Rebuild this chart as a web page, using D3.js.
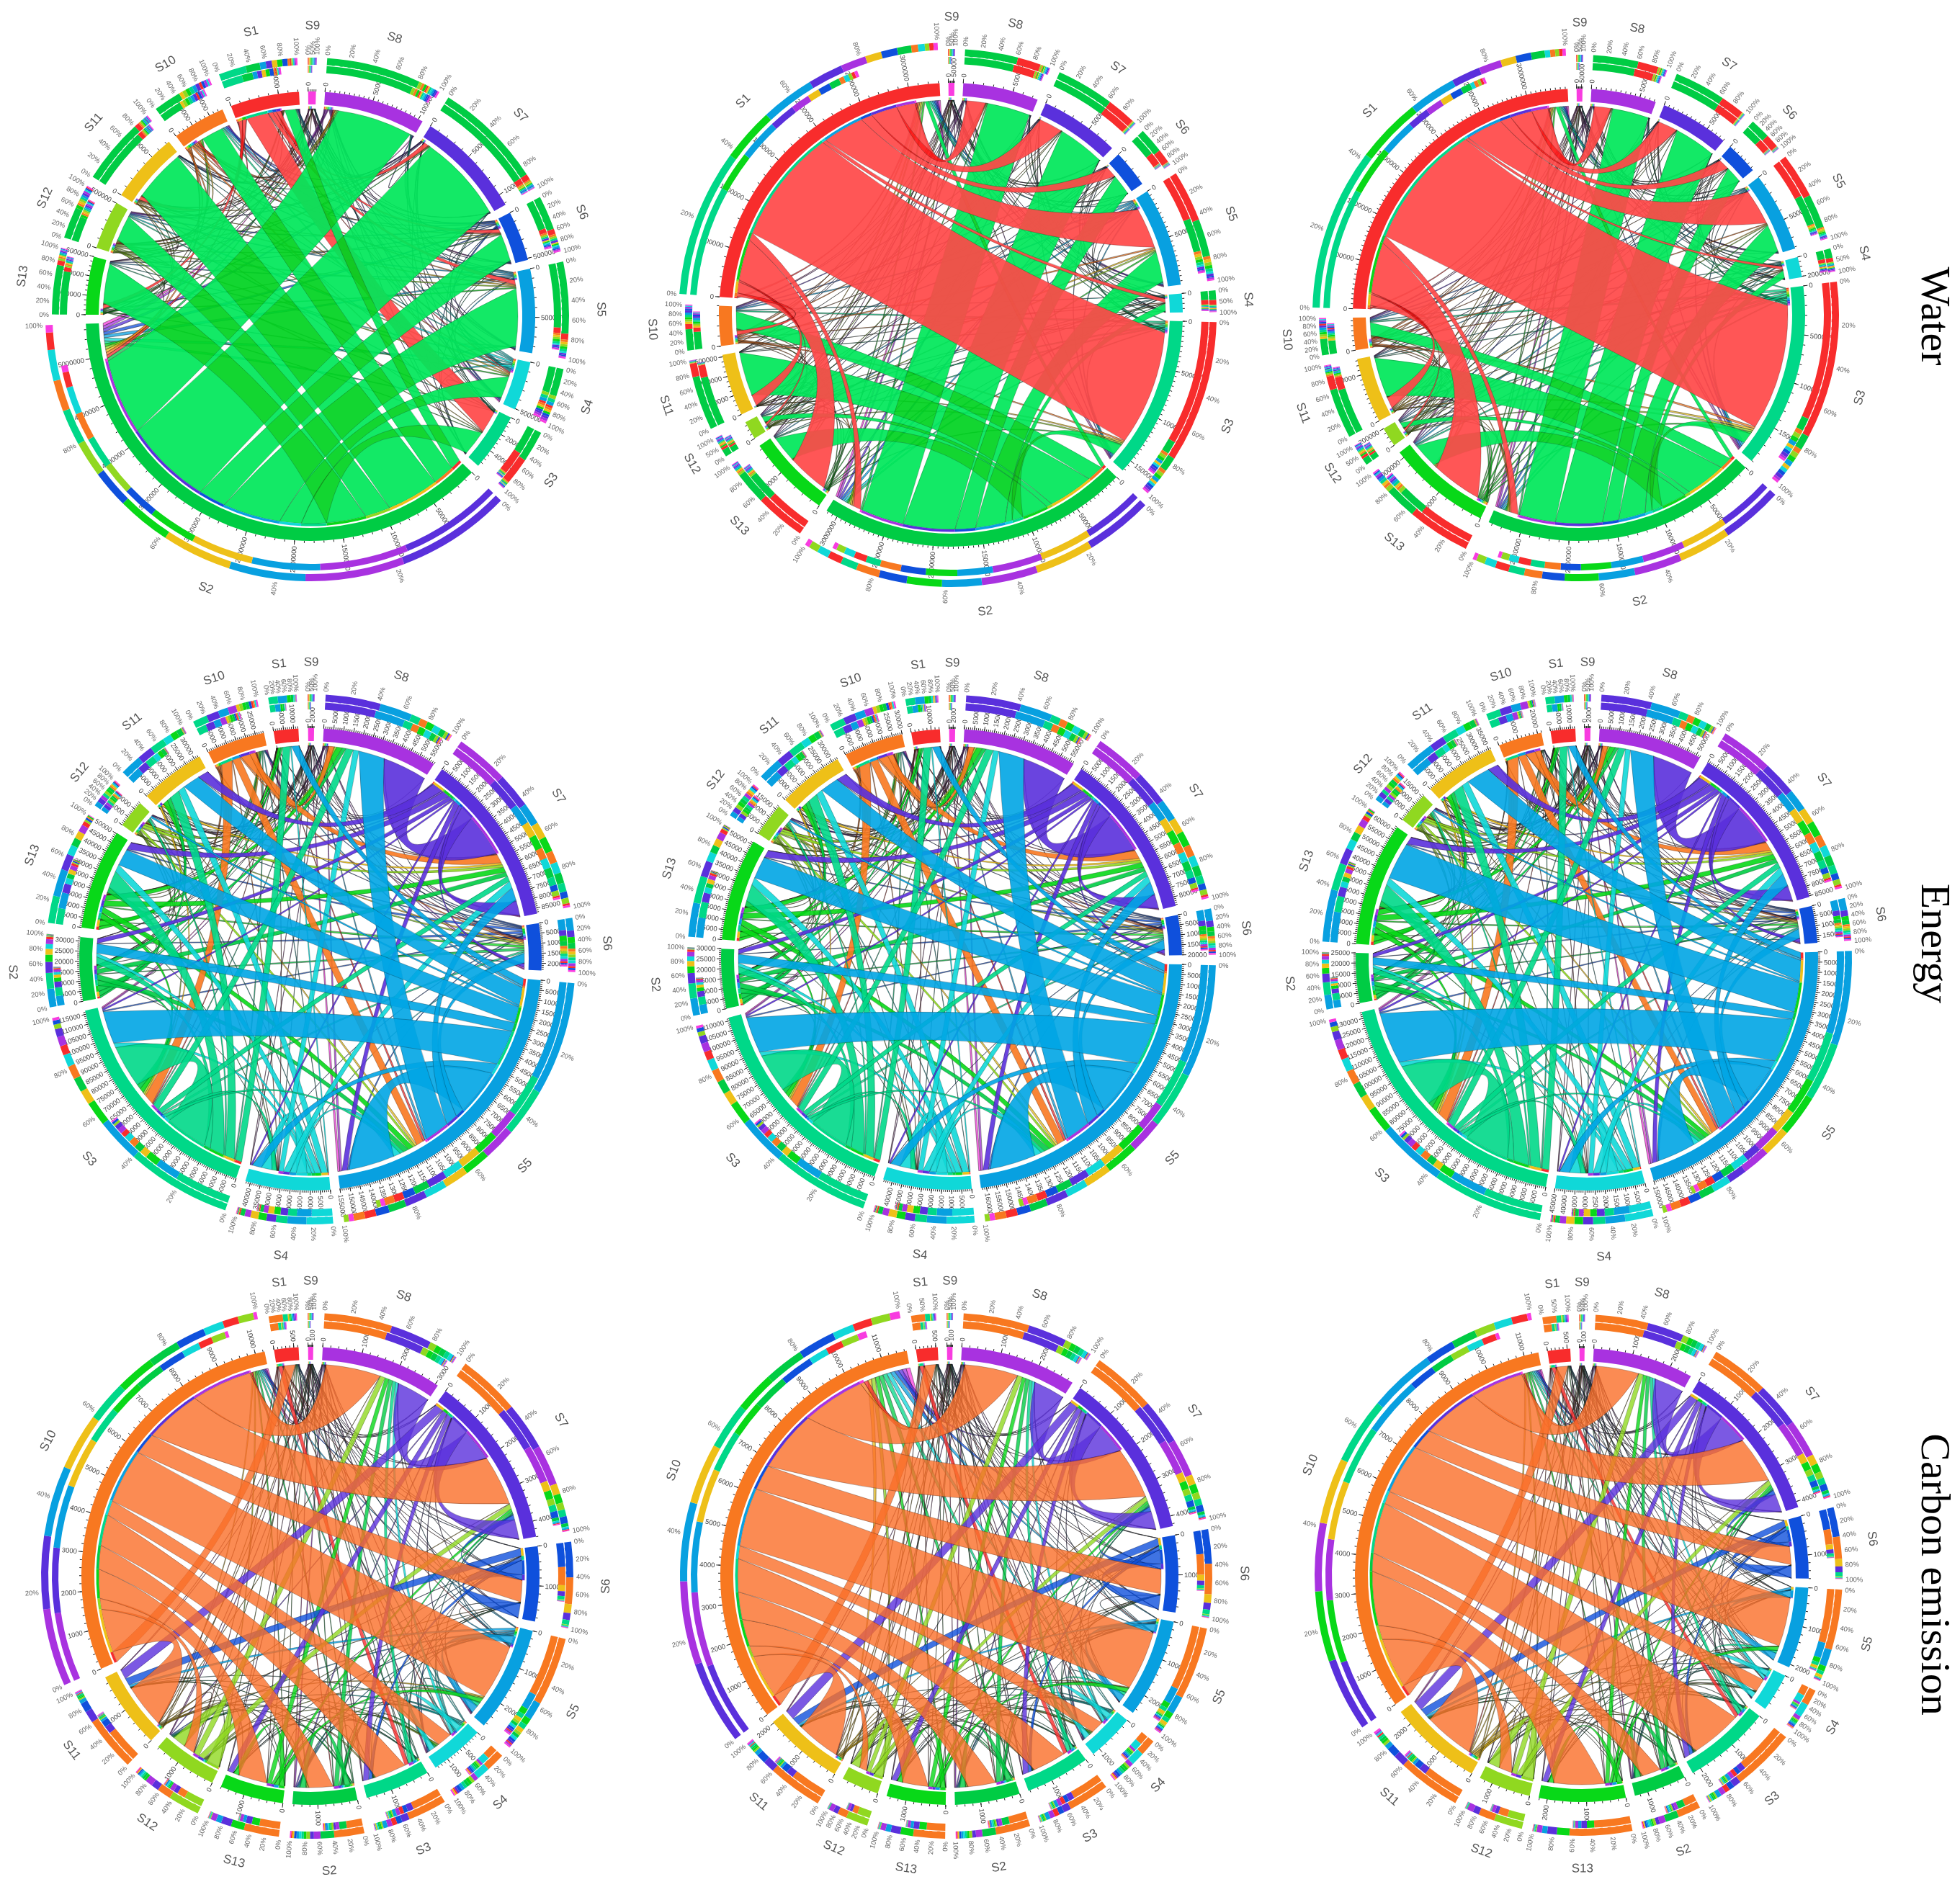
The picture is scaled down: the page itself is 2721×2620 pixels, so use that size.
<!DOCTYPE html>
<html><head><meta charset="utf-8">
<style>html,body{margin:0;padding:0;background:#fff}svg{display:block}</style>
<script src="https://cdn.jsdelivr.net/npm/d3@7"></script></head><body>
<svg id="c" width="2721" height="2620"></svg>
<script>
// ---------- categories (clockwise from the top of each diagram)
const sectorNames=["S9","S8","S7","S6","S5","S4","S3","S2","S13","S12","S11","S10","S1"];
const ringColors=["#f83ce0","#a832e0","#5a30dc","#0f50dc","#08a0e0","#10d8d8","#00d888","#00cc44","#08d818","#90d820","#eec018","#f87820","#f82c2c"];
const rowTitles=["Water","Energy","Carbon emission"];

// ---------- sector sizes, one list per diagram
const waterLeftSizes=[2,26.2,28,12.9,21.7,12.7,14.9,134,15,12.6,18.3,13.7,17.8];
const waterMidSizes=[1.5,18.9,19.9,9.4,24.7,4.7,40.6,78,21,4.6,15.5,10,82.8];
const waterRightSizes=[1.5,16.7,17.6,8.3,20.4,5.2,47.6,71,26.7,5,16.7,8.3,85.6];
const energyLeftSizes=[1.5,29,43.9,11.8,77.5,21.3,58.4,16,25.2,7,16.4,14.7,6.2];
const energyMidSizes=[1.5,28.8,42.3,10.1,81.4,22.3,55.8,15,25.8,8.5,16.5,15,7.2];
const energyRightSizes=[1.5,26.1,42.8,9.3,75,22.5,66.6,12.5,31,8,18,11,6.2];
const carbonLeftSizes=[1.3,30.7,44,19,26.9,13.7,16.5,16.4,16.1,16.3,19.6,102.4,6.2];
const carbonMidSizes=[1.4,29.4,42.6,19.5,25.2,12,16.4,16.5,15,9.5,20.3,116.6,5.5];
const carbonRightSizes=[1.3,25.7,41.5,16,20.8,9.8,22.3,13.4,22.2,13.4,23.9,113.7,5.8];

// ---------- main flows [from,to,value]
const waterLeftFlows=[[7,12,3],[7,11,6],[7,10,14.5],[7,9,7],[7,8,11],[7,6,7],[7,5,6],[7,4,16],[7,3,7.5],[7,2,24.4],[7,1,21],[12,6,6],[12,4,1.2],[12,3,1],[12,2,1.2],[12,8,1],[12,10,1]];
const waterMidFlows=[[12,11,1],[12,10,3],[12,9,.5],[12,8,11],[12,7,2],[12,6,31],[12,5,1],[12,4,11],[12,3,3],[12,2,7],[12,1,5],[7,12,1],[7,11,4.5],[7,10,12],[7,9,1.5],[7,8,7],[7,6,3],[7,5,2],[7,4,8],[7,3,5.5],[7,2,14],[7,1,11.5]];
const waterRightFlows=[[12,10,3],[12,9,.5],[12,8,14],[12,7,2],[12,6,35],[12,5,.8],[12,4,10],[12,3,3],[12,2,6],[12,1,4.5],[7,12,1],[7,11,3.5],[7,10,11],[7,9,1.5],[7,8,7],[7,6,3],[7,5,2],[7,4,7.5],[7,3,4.5],[7,2,13],[7,1,10]];
const energySharedFlows=[
 [2,1,12],[2,2,4],[2,10,3],[2,8,2],[2,7,1.2],[2,5,.5],[2,6,.5],[2,3,1],[2,4,1.5],
 [4,12,2],[4,9,.5],[4,7,2.5],[4,5,3],[4,4,13],[4,3,2.5],[4,2,3.5],[4,1,7],
 [5,12,.3],[5,10,2],[5,8,2],[5,7,1],[5,6,1.5],[5,5,3.5],[5,4,2],[5,2,2],[5,1,1.5],
 [6,12,2],[6,10,3],[6,9,.5],[6,8,4.5],[6,7,2],[6,6,13],[6,5,1.5],[6,4,1],[6,2,1.5],[6,1,2],
 [7,12,.5],[7,10,1.2],[7,8,1.5],[7,6,1.5],[7,4,1.5],[7,2,1.2],[7,1,1],
 [8,12,.8],[8,10,1.5],[8,6,1.5],[8,4,1.5],[8,2,1.5],[8,1,1.5],
 [9,2,.8],[9,1,.6],[9,4,.6],[10,2,.6],[10,6,.5],
 [11,6,3],[11,4,2],[11,2,2.5],[11,1,1.5]];
const energyLeftSkyBands=[[4,6,10],[4,8,4.5],[4,10,5]];
const energyMidSkyBands=[[4,6,12],[4,8,6],[4,10,5.5]];
const energyRightSkyBands=[[4,6,15],[4,8,10],[4,10,7]];
const carbonSharedFlows=[[2,1,10],[2,2,6],[2,10,2.5],[2,8,1.5],[2,6,1.5],[3,3,4],[3,10,2],[3,2,1.5],[3,6,1],[9,9,3.5],[9,1,1.5],[9,2,1.5],[8,1,1.2],[8,4,1.2],[8,2,.8],[7,1,1.2],[7,2,.6],[6,1,1],[6,4,.8],[5,1,.8],[5,5,1.5],[4,4,2],[4,10,.6],[12,6,1],[7,7,1.5],[8,8,1.5]];
const carbonLeftOrange=[[11,12,3],[11,10,12],[11,9,3],[11,8,8],[11,7,6.5],[11,6,8.5],[11,5,4],[11,4,15],[11,3,6],[11,2,15.5],[11,1,16.5]];
const carbonMidOrange=[[11,12,3],[11,10,12],[11,9,3],[11,8,7.5],[11,7,7.5],[11,6,9],[11,5,3.5],[11,4,16],[11,3,7],[11,2,17],[11,1,17]];
const carbonRightOrange=[[11,12,3],[11,10,14],[11,9,4],[11,8,15],[11,7,5],[11,6,14],[11,5,3.5],[11,4,14],[11,3,6],[11,2,15.5],[11,1,14.5]];

// ---------- hairline flows, relative sizes, one list per source sector
const waterHair=[
 [0,1,1,1,1,1,1,1,1,1,1,1,1],[1,0,1,1,1,1,1,1,1,2,1,1,1],[1,1,0,1,2,1,1,1,1,2,1,2,1],[1,1,2,1,1,1,2,1,1,2,1,2,1],
 [1,1,1,1,0,1,2,1,2,2,2,2,1],[1,1,1,1,2,0,2,1,1,2,1,1,1],[1,1,2,1,2,1,0,1,2,2,1,2,1],[1,1,1,1,1,1,1,0,1,1,1,1,1],
 [1,2,2,1,2,1,2,1,0,3,2,2,1],[1,2,2,1,2,1,2,1,3,2,2,2,1],[1,1,2,1,2,1,2,1,2,2,0,2,1],[1,2,2,1,2,1,2,1,2,2,2,0,1],[1,1,1,1,1,1,1,1,1,1,1,2,1]];
const energyHair=[
 [0,1,1,1,1,1,1,1,1,1,1,1,1],[1,0,1,2,1,1,1,2,1,1,1,2,1],[1,1,0,3,1,1,1,2,2,2,1,1,1],[1,1,2,1,1,1,1,3,3,1,1,1,1],
 [1,1,1,2,0,1,1,2,2,2,1,1,1],[1,1,1,2,1,0,1,2,2,2,1,1,1],[1,1,1,2,1,1,0,2,2,2,1,1,1],[1,2,2,3,2,2,2,2,3,3,2,2,1],
 [1,2,2,3,2,2,2,3,2,3,2,2,1],[1,2,2,2,2,2,2,3,3,3,2,2,1],[1,1,1,2,1,1,1,2,2,2,0,2,1],[1,1,1,2,1,1,1,2,2,2,2,1,1],[1,1,1,1,1,1,1,1,1,1,1,1,0]];
const carbonHair=[
 [0,1,1,1,1,1,1,1,1,1,1,1,1],[1,1,1,2,1,1,1,2,2,2,1,1,1],[1,1,1,2,1,1,2,2,2,2,1,1,1],[1,1,1,2,1,2,2,2,2,2,1,1,1],
 [1,1,2,2,0,2,2,2,2,2,1,1,1],[1,1,2,2,2,1,2,2,2,2,1,1,1],[1,1,2,2,2,2,1,2,2,2,1,1,1],[1,2,2,2,2,2,2,1,2,3,1,1,1],
 [1,2,2,2,2,2,2,2,1,3,1,1,1],[1,2,2,2,2,2,2,3,3,2,1,1,1],[1,1,1,1,2,1,2,2,2,2,0,1,1],[1,1,1,1,1,1,1,1,1,1,1,0,1],[1,1,1,1,1,1,1,1,1,1,1,1,0]];

// how far round its sector the inner of the two outer bars reaches
const waterInnerReach=[.5,.96,1,.9,.92,.95,.9,.93,.9,.8,.95,.85,.78];
const energyInnerReach=[.5,.95,.95,.9,.9,.8,.55,.55,.6,.8,.65,.7,.6];
const carbonInnerReach=[.5,.96,.96,.7,.92,.6,.8,.55,.6,.6,.65,.93,.6];

const panels=[
 {row:0,cx:431,cy:439,R:312,sizes:waterLeftSizes,flows:waterLeftFlows,hair:waterHair,reach:waterInnerReach},
 {row:0,cx:1320,cy:437,R:322,sizes:waterMidSizes,flows:waterMidFlows,hair:waterHair,reach:waterInnerReach},
 {row:0,cx:2192,cy:437,R:314,sizes:waterRightSizes,flows:waterRightFlows,hair:waterHair,reach:waterInnerReach},
 {row:1,cx:431,cy:1332,R:321,sizes:energyLeftSizes,flows:energySharedFlows.concat(energyLeftSkyBands),hair:energyHair,reach:energyInnerReach},
 {row:1,cx:1321,cy:1332,R:320,sizes:energyMidSizes,flows:energySharedFlows.concat(energyMidSkyBands),hair:energyHair,reach:energyInnerReach},
 {row:1,cx:2203,cy:1332,R:321,sizes:energyRightSizes,flows:energySharedFlows.concat(energyRightSkyBands),hair:energyHair,reach:energyInnerReach},
 {row:2,cx:431,cy:2188,R:318,sizes:carbonLeftSizes,flows:carbonSharedFlows.concat(carbonLeftOrange),hair:carbonHair,reach:carbonInnerReach},
 {row:2,cx:1318,cy:2188,R:318,sizes:carbonMidSizes,flows:carbonSharedFlows.concat(carbonMidOrange),hair:carbonHair,reach:carbonInnerReach},
 {row:2,cx:2196,cy:2187,R:315,sizes:carbonRightSizes,flows:carbonSharedFlows.concat(carbonRightOrange),hair:carbonHair,reach:carbonInnerReach}
];
const rowStyle=[
 {tickStep:9,unit:40000,split:60,blend:true,ribbon:i=>i===7?"rgb(0,232,90)":i===12?"rgb(255,72,72)":ringColors[i],opacity:.92,alpha:1},
 {tickStep:3.2,unit:2000,split:999,blend:false,ribbon:i=>i===4?"rgb(0,165,228)":ringColors[i],opacity:1,alpha:.9},
 {tickStep:9,unit:100,split:60,blend:false,ribbon:i=>i===11?"rgb(250,110,40)":ringColors[i],opacity:1,alpha:.8}
];

const rad=d3.scaleLinear().domain([0,360]).range([0,2*Math.PI]);
const svg=d3.select("#c");

function layout(p){
 const pad=(360-d3.sum(p.sizes))/p.sizes.length; let a=-.6;
 const sectors=p.sizes.map((w,i)=>{const s={i,w,a0:a,a1:a+w};a+=w+pad;return s;});
 const key=(f,t)=>f*100+t, mains=new Set(p.flows.map(d=>key(d[0],d[1])));
 const flows=p.flows.map(d=>({from:d[0],to:d[1],v:d[2],main:true}));
 p.hair.forEach((row,f)=>row.forEach((v,t)=>{if(v>0&&!mains.has(key(f,t)))flows.push({from:f,to:t,v,main:false});}));
 sectors.forEach(s=>{
  const outs=flows.filter(f=>f.from===s.i).sort((x,y)=>y.to-x.to);
  const ins=flows.filter(f=>f.to===s.i).sort((x,y)=>y.from-x.from);
  const seq=outs.map(f=>[f,"s"]).concat(ins.map(f=>[f,"t"]));
  const m=d3.sum(seq,e=>e[0].main?e[0].v:0), h=d3.sum(seq,e=>e[0].main?0:e[0].v);
  const ms=m>.95*s.w?.95*s.w/m:1, hs=h?(s.w-m*ms)/h:0;
  let pos=s.a0;
  s.partner=new Map();
  seq.forEach(([f,end])=>{
   const w=f.v*(f.main?ms:hs);
   f[end]=[pos,pos+w]; pos+=w;
   const other=end==="s"?f.to:f.from;
   s.partner.set(other,(s.partner.get(other)||0)+w);
  });
  s.outs=outs;
 });
 return {sectors,flows};
}
const pt=(a,r)=>[r*Math.sin(a),-r*Math.cos(a)];
function control(a,b,r){
 let d=Math.abs(a-b)%(2*Math.PI); if(d>Math.PI)d=2*Math.PI-d;
 const mx=Math.sin(a)+Math.sin(b), my=-(Math.cos(a)+Math.cos(b)), n=Math.hypot(mx,my);
 const rc=r*.45*(1-Math.pow(d/Math.PI,3));
 return n<1e-6?[0,0]:[mx/n*rc,my/n*rc];
}
function ribbon(f,r){
 const a0=rad(f.s[0]),a1=rad(f.s[1]),b0=rad(f.t[0]),b1=rad(f.t[1]),q=Math.PI/2;
 const p=d3.path();
 p.moveTo(...pt(a0,r)); p.arc(0,0,r,a0-q,a1-q);
 p.quadraticCurveTo(...control(a1,b0,r),...pt(b0,r));
 p.arc(0,0,r,b0-q,b1-q);
 p.quadraticCurveTo(...control(b1,a0,r),...pt(a0,r));
 p.closePath();
 return p.toString();
}
const arc=d3.arc();
function radialText(g,items,cls,size,fill){
 g.selectAll("text."+cls).data(items).join("text").attr("class",cls)
  .attr("font-family","Liberation Sans, Arial, sans-serif").attr("font-size",size).attr("fill",fill)
  .attr("dominant-baseline","central")
  .attr("text-anchor",d=>d.a>180?"end":"start")
  .attr("transform",d=>`rotate(${d.a-90}) translate(${d.r},0)`+(d.a>180?" rotate(180)":""))
  .text(d=>d.t);
}

panels.forEach(p=>{
 const st=rowStyle[p.row], {sectors,flows}=layout(p);
 const R=p.R, rIn=R-18, rL=R-24;
 const g=svg.append("g").attr("transform",`translate(${p.cx},${p.cy})`);
 // hairlines under the bands
 g.append("g").selectAll("path").data(flows.filter(f=>!f.main)).join("path")
  .attr("d",f=>ribbon(f,rL)).attr("fill",f=>ringColors[f.from]).attr("fill-opacity",.75)
  .attr("stroke","#1a1a1a").attr("stroke-opacity",.75).attr("stroke-width",.6);
 // bands, grouped by source, biggest source last
 const groups=d3.groups(flows.filter(f=>f.main),f=>f.from).sort((x,y)=>d3.sum(x[1],f=>f.v)-d3.sum(y[1],f=>f.v));
 groups.forEach(([src,list])=>{
  const gg=g.append("g").style("isolation","isolate").style("opacity",st.opacity);
  gg.selectAll("path").data(list).join("path")
   .attr("d",f=>ribbon(f,rL)).attr("fill",st.ribbon(src)).attr("fill-opacity",st.alpha)
   .attr("stroke","#000").attr("stroke-opacity",.35).attr("stroke-width",.7)
   .style("mix-blend-mode",st.blend?"multiply":null);
 });
 // partner colour strip beside the ring on the outgoing side
 g.append("g").selectAll("path").data(sectors.flatMap(s=>s.outs)).join("path")
  .attr("d",f=>arc({innerRadius:rL,outerRadius:rL+3.5,startAngle:rad(f.s[0]),endAngle:rad(f.s[1])}))
  .attr("fill",f=>ringColors[f.to]);
 // sector ring
 g.append("g").selectAll("path").data(sectors).join("path")
  .attr("d",s=>arc({innerRadius:rIn,outerRadius:R,startAngle:rad(s.a0),endAngle:rad(s.a1)}))
  .attr("fill",s=>ringColors[s.i]);
 // scales on the ring
 const tickData=[],tickText=[],pctText=[];
 const trackGeom=s=>s.w>st.split?{inner:[R+32,R+41],outer:[R+46,R+56]}:{inner:[R+26,R+36],outer:[R+37,R+47]};
 sectors.forEach(s=>{
  const dom=s.w*st.unit, n=Math.max(1,Math.round(s.w/st.tickStep));
  const sc=d3.scaleLinear().domain([0,dom]).range([s.a0,s.a1]);
  sc.ticks(n).forEach(v=>{tickData.push({a:sc(v),len:6});tickText.push({a:sc(v),r:R+8,t:d3.format("d")(v)});});
  sc.ticks(n*5).forEach(v=>tickData.push({a:sc(v),len:3}));
  const pc=d3.scaleLinear().domain([0,100]).range([s.a0,s.a1]);
  const top=trackGeom(s).outer[1];
  pc.ticks(s.w<6?2:5).forEach(v=>pctText.push({a:pc(v),r:top+4,t:v+"%"}));
 });
 g.append("g").selectAll("line").data(tickData).join("line")
  .attr("x1",d=>pt(rad(d.a),R)[0]).attr("y1",d=>pt(rad(d.a),R)[1])
  .attr("x2",d=>pt(rad(d.a),R+d.len)[0]).attr("y2",d=>pt(rad(d.a),R+d.len)[1])
  .attr("stroke","#222").attr("stroke-width",1);
 const tg=g.append("g");
 radialText(tg,tickText,"tk",9.5,"#444");
 radialText(tg,pctText,"pc",9.5,"#666");
 // two stacked bars outside, partners from largest to smallest
 sectors.forEach(s=>{
  const parts=[...s.partner.entries()].sort((x,y)=>y[1]-x[1]);
  const total=d3.sum(parts,d=>d[1]), geo=trackGeom(s);
  [["outer",1],["inner",p.reach[s.i]]].forEach(([k,reach])=>{
   const x=d3.scaleLinear().domain([0,total]).range([s.a0,s.a0+s.w*reach]);
   let c=0;
   const segs=parts.map(([o,v])=>{const e={o,x0:x(c),x1:x(c+v)};c+=v;return e;});
   g.append("g").selectAll("path").data(segs).join("path")
    .attr("d",e=>arc({innerRadius:geo[k][0],outerRadius:geo[k][1],startAngle:rad(e.x0),endAngle:rad(e.x1)}))
    .attr("fill",e=>ringColors[e.o]);
   if(s.w<=st.split&&k==="outer"){
    const dash=d3.path(),q=Math.PI/2,e=segs[0];
    dash.arc(0,0,R+36.5,rad(e.x0)-q,rad(e.x1)-q);
    g.append("path").attr("d",dash.toString()).attr("fill","none").attr("stroke","#fff").attr("stroke-width",1.5).attr("stroke-dasharray","7 4");
   }
  });
 });
 // sector names
 g.append("g").selectAll("text").data(sectors).join("text")
  .attr("font-family","Liberation Sans, Arial, sans-serif").attr("font-size",17).attr("fill","#555")
  .attr("text-anchor","middle").attr("dominant-baseline","central")
  .attr("transform",s=>{const m=(s.a0+s.a1)/2,[x,y]=pt(rad(m),R+92),b=(m>90&&m<270)?m-180:m;return `translate(${x},${y}) rotate(${b})`;})
  .text(s=>sectorNames[s.i]);
});

// row titles
const titleY=[439,1310,2186];
svg.append("g").selectAll("text").data(rowTitles).join("text")
 .attr("font-family","Liberation Serif, Times New Roman, serif").attr("font-size",58).attr("fill","#000")
 .attr("text-anchor","middle")
 .attr("transform",(d,i)=>`translate(2668,${titleY[i]}) rotate(90)`)
 .text(d=>d);
</script></body></html>
